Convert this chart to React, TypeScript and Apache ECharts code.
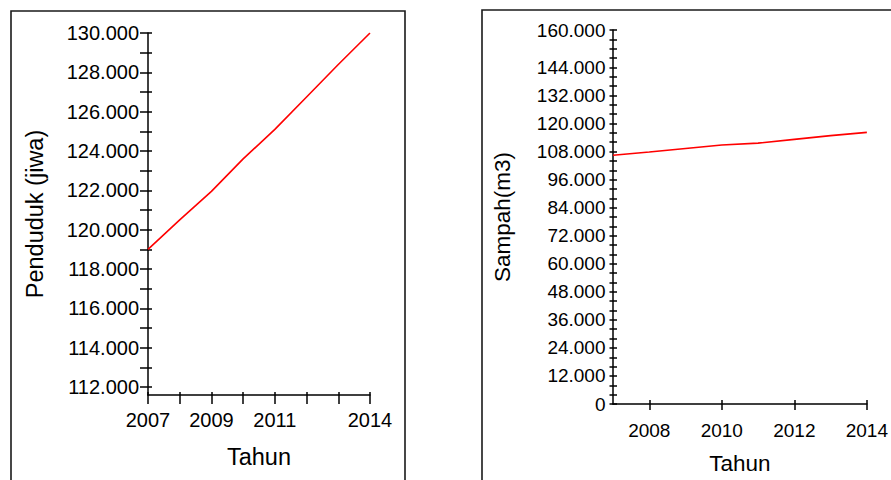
import React, { useEffect, useRef } from "react";
import * as echarts from "echarts";

const years = [2007, 2008, 2009, 2010, 2011, 2012, 2013, 2014];
const penduduk = [119000, 120500, 121950, 123600, 125100, 126750, 128400, 130000];
const sampah = [106400, 107800, 109300, 110800, 111600, 113200, 114800, 116200];

const leftYLabels = [112000, 114000, 116000, 118000, 120000, 122000, 124000, 126000, 128000, 130000];
const leftYTicks = [112000, 113000, 114000, 115000, 116000, 117000, 118000, 119000, 120000, 121000, 122000, 123000, 124000, 125000, 126000, 127000, 128000, 129000, 130000];
const leftXLabels = [2007, 2009, 2011, 2014];
const rightYLabels = [0, 12000, 24000, 36000, 48000, 60000, 72000, 84000, 96000, 108000, 120000, 132000, 144000, 160000];
const rightYTicks: number[] = [];
for (let v = 0; v <= 160000; v += 4000) rightYTicks.push(v);
const rightXLabels = [2008, 2010, 2012, 2014];

const FONT = "Arial, 'Liberation Sans', sans-serif";
const fmt = (v: number) => (v === 0 ? "0" : (v / 1000).toFixed(3));

export default function App() {
  const ref = useRef<HTMLDivElement>(null);
  useEffect(() => {
    if (!ref.current) return;
    const chart = echarts.init(ref.current, null, { renderer: "svg" });
    const axisLine = { show: true, lineStyle: { color: "#000", width: 1.5 } };
    const tickStyle = { color: "#000", width: 1.5 };
    chart.setOption({
      animation: false,
      backgroundColor: "#fff",
      graphic: [
        { type: "rect", shape: { x: 11, y: 11, width: 394, height: 520 }, style: { fill: "none", stroke: "#1a1a1a", lineWidth: 1.6 } },
        { type: "rect", shape: { x: 482, y: 10, width: 460, height: 520 }, style: { fill: "none", stroke: "#1a1a1a", lineWidth: 1.6 } },
      ],
      grid: [
        { left: 148, top: 33, width: 222, height: 362 },
        { left: 613, top: 30, width: 256, height: 376 },
      ],
      xAxis: [
        {
          gridIndex: 0, type: "value", min: 2007, max: 2014, position: "bottom",
          axisLine,
          axisTick: { show: true, length: 9, customValues: years, lineStyle: tickStyle },
          axisLabel: { customValues: leftXLabels, margin: 15, fontSize: 20, color: "#000", fontFamily: FONT, formatter: (v: number) => String(v) },
          splitLine: { show: false },
          name: "Tahun", nameLocation: "middle", nameGap: 50,
          nameTextStyle: { fontSize: 23.5, color: "#000", fontFamily: FONT },
        },
        {
          gridIndex: 0, type: "value", min: 2007, max: 2014, position: "bottom",
          axisLine: { show: false },
          axisTick: { show: true, inside: true, length: 3, customValues: years, lineStyle: tickStyle },
          axisLabel: { show: false },
          splitLine: { show: false },
        },
        {
          gridIndex: 1, type: "value", min: 2007, max: 2014, position: "bottom",
          axisLine,
          axisTick: { show: true, length: 6, customValues: rightXLabels, lineStyle: tickStyle },
          axisLabel: { customValues: rightXLabels, margin: 16.5, fontSize: 19, color: "#000", fontFamily: FONT, formatter: (v: number) => String(v) },
          splitLine: { show: false },
          name: "Tahun", nameLocation: "middle", nameGap: 48,
          nameTextStyle: { fontSize: 22.5, color: "#000", fontFamily: FONT },
        },
        {
          gridIndex: 1, type: "value", min: 2007, max: 2014, position: "bottom",
          axisLine: { show: false },
          axisTick: { show: true, inside: true, length: 4, customValues: rightXLabels, lineStyle: tickStyle },
          axisLabel: { show: false },
          splitLine: { show: false },
        },
      ],
      yAxis: [
        {
          gridIndex: 0, type: "value", min: 111600, max: 130000, position: "left",
          axisLine,
          axisTick: { show: true, length: 8, customValues: leftYTicks, lineStyle: tickStyle },
          axisLabel: { customValues: leftYLabels, margin: 9, fontSize: 20, color: "#000", fontFamily: FONT, formatter: fmt },
          splitLine: { show: false },
          name: "Penduduk (jiwa)", nameLocation: "middle", nameGap: 101,
          nameTextStyle: { fontSize: 23.5, color: "#000", fontFamily: FONT },
        },
        {
          gridIndex: 0, type: "value", min: 111600, max: 130000, position: "left",
          axisLine: { show: false },
          axisTick: { show: true, inside: true, length: 4, customValues: leftYTicks, lineStyle: tickStyle },
          axisLabel: { show: false },
          splitLine: { show: false },
        },
        {
          gridIndex: 1, type: "value", min: 0, max: 160000, position: "left",
          axisLine,
          axisTick: { show: true, length: 3.5, customValues: rightYTicks, lineStyle: tickStyle },
          axisLabel: { customValues: rightYLabels, margin: 7.5, fontSize: 19, color: "#000", fontFamily: FONT, formatter: fmt },
          splitLine: { show: false },
          name: "Sampah(m3)", nameLocation: "middle", nameGap: 99,
          nameTextStyle: { fontSize: 22.5, color: "#000", fontFamily: FONT },
        },
        {
          gridIndex: 1, type: "value", min: 0, max: 160000, position: "left",
          axisLine: { show: false },
          axisTick: { show: true, inside: true, length: 4, customValues: rightYTicks, lineStyle: tickStyle },
          axisLabel: { show: false },
          splitLine: { show: false },
        },
      ],
      series: [
        {
          type: "line", xAxisIndex: 0, yAxisIndex: 0,
          data: years.map((y, i) => [y, penduduk[i]]),
          showSymbol: false, lineStyle: { color: "#ff0000", width: 1.6 }, itemStyle: { color: "#ff0000" },
        },
        {
          type: "line", xAxisIndex: 2, yAxisIndex: 2,
          data: years.map((y, i) => [y, sampah[i]]),
          showSymbol: false, lineStyle: { color: "#ff0000", width: 1.6 }, itemStyle: { color: "#ff0000" },
        },
      ],
    });
    return () => chart.dispose();
  }, []);
  return <div ref={ref} style={{ position: "absolute", left: 0, top: 0, width: 891, height: 480 }} />;
}
